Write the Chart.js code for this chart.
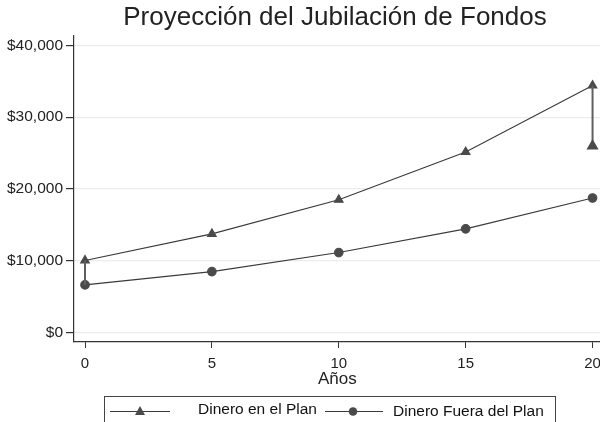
<!DOCTYPE html>
<html>
<head>
<meta charset="utf-8">
<script src="https://cdn.jsdelivr.net/npm/chart.js@4"></script>
<style>
  html, body { margin: 0; padding: 0; background: #fff; }
  #wrap { width: 600px; height: 422px; overflow: hidden; }
</style>
</head>
<body>
<div id="wrap"><canvas id="myChart" width="608" height="422"></canvas></div>
<script>
const years = [0, 5, 10, 15, 20];
const enPlan = [10050, 13750, 18500, 25150, 34400];
const fueraPlan = [6650, 8500, 11150, 14450, 18750];
const planAlt20 = 26000;
const yTicks = [0, 10000, 20000, 30000, 40000];
const xTicks = [0, 5, 10, 15, 20];
const titleText = 'Proyección del Jubilación de Fondos';
const seriesNames = ['Dinero en el Plan', 'Dinero Fuera del Plan'];

const FONT = "'Liberation Sans', Arial, sans-serif";
const lineCol = '#3a3a3a';
const markCol = '#4a4a4a';

function pts(xs, ys) {
    return xs.map((x, i) => ({ x: x, y: ys[i] }));
}

// title + legend box, drawn after the chart
const decor = {
    id: 'decor',
    afterDraw(chart) {
        const c = chart.ctx;
        c.save();
        c.fillStyle = '#222';
        c.font = '26px ' + FONT;
        c.textAlign = 'center';
        c.textBaseline = 'middle';
        c.fillText(titleText, 335, 18);

        // legend
        c.strokeStyle = '#444';
        c.lineWidth = 1;
        c.strokeRect(104.5, 396.5, 451, 40);
        const ly = 411;
        c.strokeStyle = lineCol;
        c.lineWidth = 1;
        c.beginPath();
        c.moveTo(110, ly + 0.5); c.lineTo(170, ly + 0.5);
        c.moveTo(325, ly + 0.5); c.lineTo(383, ly + 0.5);
        c.stroke();
        c.fillStyle = markCol;
        c.beginPath();
        c.moveTo(140, ly - 5); c.lineTo(145, ly + 4); c.lineTo(135, ly + 4);
        c.closePath(); c.fill();
        c.beginPath();
        c.arc(353, ly + 0.5, 4.3, 0, Math.PI * 2);
        c.fill();
        c.fillStyle = '#111';
        c.font = '15.5px ' + FONT;
        c.textAlign = 'left';
        c.fillText(seriesNames[0], 198, ly - 1);
        c.fillText(seriesNames[1], 393, ly + 1);
        c.restore();
    }
};

const ctx = document.getElementById('myChart').getContext('2d');
const myChart = new Chart(ctx, {
    type: 'scatter',
    data: {
        datasets: [{
            label: 'spike0',
            data: [{ x: 0, y: enPlan[0] }, { x: 0, y: fueraPlan[0] }],
            showLine: true,
            borderColor: '#606060',
            borderWidth: 2,
            pointRadius: 0
        }, {
            label: 'spike20',
            data: [{ x: 20, y: enPlan[4] }, { x: 20, y: planAlt20 }],
            showLine: true,
            borderColor: '#606060',
            borderWidth: 2,
            pointRadius: [0, 5],
            pointStyle: 'triangle',
            backgroundColor: markCol,
            pointBorderColor: markCol
        }, {
            label: seriesNames[0],
            data: pts(years, enPlan),
            showLine: true,
            borderColor: lineCol,
            borderWidth: 1.1,
            pointStyle: 'triangle',
            pointRadius: 5,
            backgroundColor: markCol,
            pointBorderColor: markCol
        }, {
            label: seriesNames[1],
            data: pts(years, fueraPlan),
            showLine: true,
            borderColor: lineCol,
            borderWidth: 1.1,
            pointStyle: 'circle',
            pointRadius: 4.3,
            backgroundColor: markCol,
            pointBorderColor: markCol
        }]
    },
    options: {
        responsive: false,
        animation: false,
        layout: { padding: { top: 36, right: 0, bottom: 32, left: 0 } },
        plugins: {
            legend: { display: false },
            title: { display: false },
            tooltip: { enabled: false }
        },
        scales: {
            x: {
                type: 'linear',
                min: -0.434,
                max: 20.32,
                afterBuildTicks: s => { s.ticks = xTicks.map(v => ({ value: v })); },
                afterFit: s => { s.height = 48; },
                grid: { drawOnChartArea: false, tickLength: 6, tickColor: '#333', tickWidth: 1 },
                border: { color: '#333', width: 1.2 },
                ticks: { color: '#222', font: { family: FONT, size: 15 }, padding: 7, maxRotation: 0, autoSkip: false },
                title: { display: true, text: 'Años', color: '#222', font: { family: FONT, size: 17 }, padding: { top: -7, bottom: 0 } }
            },
            y: {
                type: 'linear',
                min: -1300,
                max: 41300,
                afterBuildTicks: s => { s.ticks = yTicks.map(v => ({ value: v })); },
                afterFit: s => { s.width = 74; },
                grid: { color: '#ececec', lineWidth: 1.2, tickLength: 8, tickColor: '#333' },
                border: { color: '#333', width: 1.2 },
                ticks: {
                    color: '#222',
                    font: { family: FONT, size: 15.5 },
                    padding: 3,
                    callback: v => '$' + v.toLocaleString('en-US')
                }
            }
        }
    },
    plugins: [decor]
});
</script>
</body>
</html>
